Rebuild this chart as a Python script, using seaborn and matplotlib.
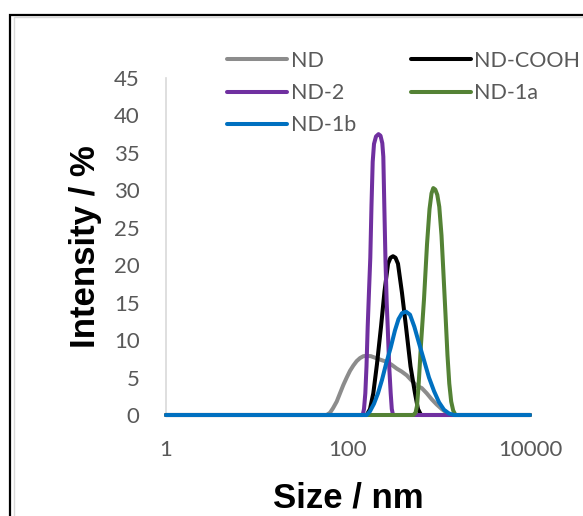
import matplotlib
matplotlib.use("Agg")
import matplotlib.pyplot as plt
import seaborn as sns
from matplotlib.patches import Rectangle
from matplotlib.ticker import FixedLocator, NullLocator

# DLS size distributions (intensity, %)
nd_x = [1, 58.3, 63.4, 68.4, 75.2, 81.7, 88.8, 96.8, 105.2, 114.4, 124.6, 135.5, 147.3, 160.4,
        179, 203, 231, 266, 302, 343, 389, 442, 501, 569, 646, 733, 831, 944, 1071, 1216, 1355, 10000]
nd_y = [0, 0, 0.3, 0.9, 1.8, 2.9, 4.0, 5.0, 5.9, 6.6, 7.2, 7.6, 7.85, 7.9,
        7.85, 7.6, 7.35, 7.1, 6.7, 6.2, 5.8, 5.3, 4.6, 3.9, 3.6, 2.9, 2.1, 1.4, 0.8, 0.3, 0, 0]

cooh_x = [1, 160.4, 174.5, 189.7, 208.2, 230.6, 251.8, 275.4, 293.1, 312.4, 332.6, 354.2,
          392, 433.6, 486.3, 544.9, 587.5, 634.4, 10000]
cooh_y = [0, 0, 0.8, 2.9, 6.8, 11.8, 16.5, 20.2, 21.0, 21.2, 21.0, 20.2,
          16.3, 11.8, 6.5, 2.9, 0.8, 0, 0]

nd2_x = [1, 145.1, 149.9, 155, 159.7, 164.6, 170.1, 175.8, 181.2, 186.8, 193.1, 203.2, 216.4,
         227.5, 238.2, 244.4, 250.6, 258.3, 266.2, 273, 283.6, 294.5, 302.8, 312.4, 10000]
nd2_y = [0, 0, 0.8, 2.9, 6.5, 11.8, 16.5, 21.0, 28.0, 33.8, 36.2, 37.2, 37.5,
         37.3, 36.3, 34.5, 28.0, 20.5, 15.0, 11.8, 6.5, 2.9, 0.8, 0, 0]

nd1a_x = [1, 522, 552, 573, 595.5, 634.4, 684.5, 738.4, 786.7, 827.5, 865.4, 910.5, 957.5,
          1007, 1065, 1114, 1178, 1239, 1297, 1361, 1432, 1518, 10000]
nd1a_y = [0, 0, 0.3, 1.2, 3.8, 9.5, 15.5, 22.8, 27.5, 29.6, 30.3, 30.1, 29.4,
          27.8, 24.0, 19.4, 13.5, 8.0, 4.2, 1.8, 0.6, 0, 0]

nd1b_x = [1, 160.4, 174.5, 193, 213.6, 236.5, 261.6, 294.6, 328.3, 358.9, 392, 433.6, 480,
          535.5, 602.6, 684.5, 776.2, 881, 1000, 1135, 1288, 1462, 10000]
nd1b_y = [0, 0, 0.5, 1.5, 2.9, 4.7, 6.8, 9.0, 11.3, 12.8, 13.6, 13.8, 13.4,
          11.8, 9.6, 7.3, 5.0, 3.2, 1.7, 0.7, 0.2, 0, 0]

series = [
    ("ND", nd_x, nd_y, "#8C8C8C"),
    ("ND-COOH", cooh_x, cooh_y, "#000000"),
    ("ND-2", nd2_x, nd2_y, "#7030A0"),
    ("ND-1a", nd1a_x, nd1a_y, "#548235"),
    ("ND-1b", nd1b_x, nd1b_y, "#0070C0"),
]
legend_order = ["ND", "ND-2", "ND-1b", "ND-COOH", "ND-1a"]

x_ticks = [1, 100, 10000]
y_ticks = list(range(0, 50, 5))

sns.set_theme(style="white")
plt.rcParams["font.family"] = ["Lato", "DejaVu Sans"]

W, H = 583, 516
fig = plt.figure(figsize=(W / 100, H / 100), dpi=100)
ax = fig.add_axes([166 / W, 1 - 415 / H, (530 - 166) / W, (415 - 78) / H])

for name, xs, ys, color in series:
    sns.lineplot(x=xs, y=ys, ax=ax, color=color, linewidth=2.9, label=name,
                 estimator=None, sort=False, clip_on=False, zorder=3,
                 solid_capstyle="round", solid_joinstyle="round")

ax.set_xscale("log")
ax.set_xlim(1, 10000)
ax.set_ylim(0, 45)
ax.xaxis.set_major_locator(FixedLocator(x_ticks))
ax.xaxis.set_minor_locator(NullLocator())
ax.set_xticklabels([str(t) for t in x_ticks])
ax.set_yticks(y_ticks)
ax.tick_params(axis="both", length=0, labelsize=16, labelcolor="#595959")
ax.tick_params(axis="y", pad=19)
ax.tick_params(axis="x", pad=18)

# only the light vertical axis line is visible in the original
for side in ["top", "right", "bottom"]:
    ax.spines[side].set_visible(False)
ax.spines["left"].set_color("#D9D9D9")
ax.spines["left"].set_linewidth(1.2)
ax.spines["left"].set_zorder(1)

lab_font = dict(family=["Liberation Sans", "DejaVu Sans"], fontsize=25, fontweight="bold", color="black")
ax.set_xlabel("Size / nm", **lab_font)
ax.set_ylabel("Intensity / %", **lab_font)
ax.xaxis.label.set_va("center")
ax.yaxis.label.set_va("center")
ax.xaxis.set_label_coords(0.5, (415 - 498.5) / 337)
ax.yaxis.set_label_coords((85.5 - 166) / 364, 0.5)

# legend in two columns, filled column-wise
handles, labels = ax.get_legend_handles_labels()
lookup = dict(zip(labels, handles))
leg = ax.legend([lookup[k] for k in legend_order], legend_order, ncol=2,
                loc="upper left", bbox_to_anchor=(227 / W, 1 - 51 / H),
                bbox_transform=fig.transFigure, frameon=False, fontsize=15.5,
                handlelength=2.8, handletextpad=0.15, columnspacing=2.55,
                labelspacing=0.56, borderpad=0, borderaxespad=0)
for t in leg.get_texts():
    t.set_color("#595959")

# chart frame (cropped at right/bottom in the original)
fig.patches.append(Rectangle((14 / W, -0.5), 2, 1.5 - 17 / H, transform=fig.transFigure,
                             fill=False, edgecolor="#D9D9D9", linewidth=1))
fig.patches.append(Rectangle((10 / W, -0.5), 2, 1.5 - 15 / H, transform=fig.transFigure,
                             fill=False, edgecolor="black", linewidth=1.6))

fig.savefig("out.png", dpi=100)
